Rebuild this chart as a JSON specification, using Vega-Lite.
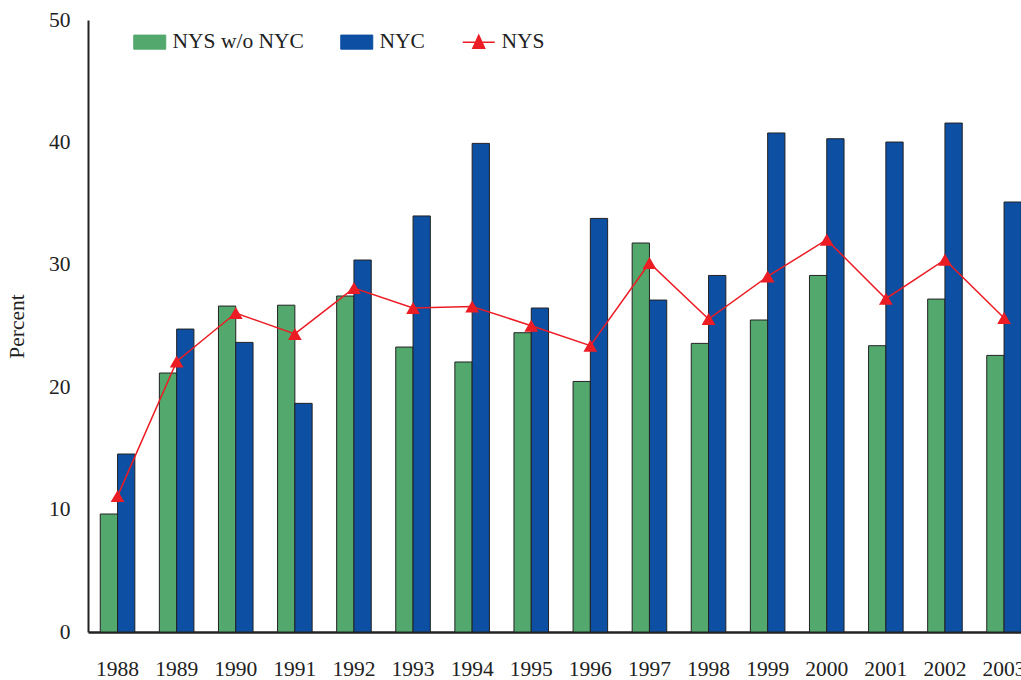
{
  "$schema": "https://vega.github.io/schema/vega-lite/v6.json",
  "autosize": {"type": "none"},
  "width": 933,
  "height": 612,
  "padding": {"left": 88, "top": 20, "right": 0, "bottom": 48},
  "background": "white",
  "config": {
    "view": {"stroke": null},
    "font": "Liberation Serif",
    "axis": {"labelFont": "Liberation Serif", "titleFont": "Liberation Serif", "labelColor": "#222", "titleColor": "#222", "grid": false, "ticks": false, "labelFontSize": 21.5, "titleFontSize": 21.5, "titleFontWeight": "normal"},
    "legend": {"labelFont": "Liberation Serif", "labelFontSize": 21.5, "labelColor": "#222"}
  },
  "data": {"values": [
    {"year": "1988", "series": "NYS w/o NYC", "value": 9.64},
    {"year": "1988", "series": "NYC", "value": 14.54},
    {"year": "1988", "series": "NYS", "value": 11.1},
    {"year": "1989", "series": "NYS w/o NYC", "value": 21.16},
    {"year": "1989", "series": "NYC", "value": 24.75},
    {"year": "1989", "series": "NYS", "value": 22.1},
    {"year": "1990", "series": "NYS w/o NYC", "value": 26.63},
    {"year": "1990", "series": "NYC", "value": 23.66},
    {"year": "1990", "series": "NYS", "value": 26.06},
    {"year": "1991", "series": "NYS w/o NYC", "value": 26.7},
    {"year": "1991", "series": "NYC", "value": 18.68},
    {"year": "1991", "series": "NYS", "value": 24.35},
    {"year": "1992", "series": "NYS w/o NYC", "value": 27.45},
    {"year": "1992", "series": "NYC", "value": 30.39},
    {"year": "1992", "series": "NYS", "value": 28.1},
    {"year": "1993", "series": "NYS w/o NYC", "value": 23.28},
    {"year": "1993", "series": "NYC", "value": 33.99},
    {"year": "1993", "series": "NYS", "value": 26.47},
    {"year": "1994", "series": "NYS w/o NYC", "value": 22.06},
    {"year": "1994", "series": "NYC", "value": 39.92},
    {"year": "1994", "series": "NYS", "value": 26.6},
    {"year": "1995", "series": "NYS w/o NYC", "value": 24.45},
    {"year": "1995", "series": "NYC", "value": 26.47},
    {"year": "1995", "series": "NYS", "value": 25.02},
    {"year": "1996", "series": "NYS w/o NYC", "value": 20.47},
    {"year": "1996", "series": "NYC", "value": 33.79},
    {"year": "1996", "series": "NYS", "value": 23.39},
    {"year": "1997", "series": "NYS w/o NYC", "value": 31.78},
    {"year": "1997", "series": "NYC", "value": 27.12},
    {"year": "1997", "series": "NYS", "value": 30.15},
    {"year": "1998", "series": "NYS w/o NYC", "value": 23.58},
    {"year": "1998", "series": "NYC", "value": 29.13},
    {"year": "1998", "series": "NYS", "value": 25.57},
    {"year": "1999", "series": "NYS w/o NYC", "value": 25.49},
    {"year": "1999", "series": "NYC", "value": 40.77},
    {"year": "1999", "series": "NYS", "value": 29.05},
    {"year": "2000", "series": "NYS w/o NYC", "value": 29.13},
    {"year": "2000", "series": "NYC", "value": 40.3},
    {"year": "2000", "series": "NYS", "value": 32.05},
    {"year": "2001", "series": "NYS w/o NYC", "value": 23.39},
    {"year": "2001", "series": "NYC", "value": 40.03},
    {"year": "2001", "series": "NYS", "value": 27.23},
    {"year": "2002", "series": "NYS w/o NYC", "value": 27.2},
    {"year": "2002", "series": "NYC", "value": 41.58},
    {"year": "2002", "series": "NYS", "value": 30.42},
    {"year": "2003", "series": "NYS w/o NYC", "value": 22.6},
    {"year": "2003", "series": "NYC", "value": 35.13},
    {"year": "2003", "series": "NYS", "value": 25.65}
  ]},
  "encoding": {
    "x": {"field": "year", "type": "nominal", "sort": null,
      "scale": {"range": [0, 945.6], "paddingInner": 0.415, "paddingOuter": 0.2075},
      "axis": {"title": null, "labelAngle": 0, "labelPadding": 26, "domainColor": "#222", "domainWidth": 2.5}},
    "y": {"field": "value", "type": "quantitative",
      "scale": {"domain": [0, 50], "nice": false},
      "axis": {"title": "Percent", "values": [0, 10, 20, 30, 40, 50], "labelPadding": 18, "titlePadding": 20, "domainColor": "#222", "domainWidth": 2}},
    "color": {"field": "series", "type": "nominal",
      "scale": {"domain": ["NYS w/o NYC", "NYC", "NYS"], "range": ["#53a86d", "#0c4fa3", "#ec1c24"]},
      "legend": {"title": null, "orient": "none", "direction": "horizontal", "legendX": 51, "legendY": 11, "padding": 0, "columnPadding": 34, "labelOffset": 12, "symbolSize": 1024,
        "encode": {"symbols": {"update": {
          "shape": {"signal": "datum.value === 'NYS' ? 'M-1,0H1M-0.37,0.38L0,-0.42L0.37,0.38Z' : 'M-1,-0.44H1V0.44H-1Z'"},
          "stroke": {"signal": "datum.value === 'NYS' ? '#ec1c24' : '#222'"},
          "fill": {"signal": "scale('color', datum.value)"},
          "fillOpacity": {"value": 1},
          "strokeWidth": {"signal": "datum.value === 'NYS' ? 1.5 : 1"}
        }}}}}
  },
  "layer": [
    {
      "transform": [{"filter": "datum.series !== 'NYS'"}],
      "mark": {"type": "bar", "stroke": "#222", "strokeWidth": 1},
      "encoding": {"xOffset": {"field": "series", "type": "nominal", "sort": ["NYS w/o NYC", "NYC"], "scale": {"paddingInner": 0, "paddingOuter": 0}}}
    },
    {
      "transform": [{"filter": "datum.series === 'NYS'"}],
      "mark": {"type": "line", "strokeWidth": 1.5},
      "encoding": {}
    },
    {
      "transform": [{"filter": "datum.series === 'NYS'"}],
      "mark": {"type": "point", "shape": "triangle-up", "filled": true, "opacity": 1, "size": 190},
      "encoding": {}
    }
  ]
}
